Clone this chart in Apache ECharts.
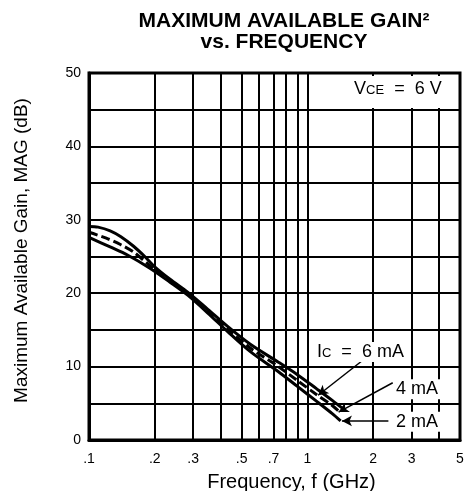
<!DOCTYPE html>
<html>
<head>
<meta charset="utf-8">
<script src="https://cdn.jsdelivr.net/npm/echarts@6/dist/echarts.min.js"></script>
<style>
  html, body { margin: 0; padding: 0; background: #fff; }
  #chart { width: 471px; height: 491px; }
</style>
</head>
<body>
<div id="chart"></div>
<script>
// frequency (GHz) and gain (dB)
var freq6 = [0.1, 0.11, 0.125, 0.14, 0.16, 0.18, 0.2, 0.235, 0.284, 0.35, 0.434, 0.55, 0.737, 0.9, 1.1, 1.3, 1.45];
var gain6 = [29.1, 29.0, 28.5, 27.7, 26.4, 25.0, 23.6, 21.9, 20.1, 17.8, 15.4, 13.0, 10.6, 8.9, 7.0, 5.4, 4.3];
var freq4 = [0.1, 0.12, 0.14, 0.16, 0.186, 0.2, 0.235, 0.284, 0.35, 0.434, 0.55, 0.737, 0.9, 1.1, 1.3, 1.42];
var gain4 = [28.3, 27.5, 26.6, 25.6, 24.0, 23.2, 21.7, 19.9, 17.6, 15.0, 12.5, 10.0, 8.1, 6.2, 4.7, 3.7];
var freq2 = [0.1, 0.125, 0.15, 0.19, 0.235, 0.284, 0.35, 0.434, 0.55, 0.737, 0.9, 1.1, 1.3, 1.42];
var gain2 = [27.6, 26.3, 25.2, 23.4, 21.5, 19.7, 17.3, 14.7, 12.0, 9.3, 7.3, 5.3, 3.6, 2.6];

var gridFreqs = [0.1, 0.2, 0.3, 0.4, 0.5, 0.6, 0.7, 0.8, 0.9, 1, 2, 3, 4, 5];
var labelFreqs = [0.1, 0.2, 0.3, 0.5, 0.7, 1, 2, 3, 5];

var font = 'Liberation Sans, Arial, Helvetica, sans-serif';

function pairs(xs, ys) {
  return xs.map(function (x, i) { return [x, ys[i]]; });
}

// arrow from label to curve
function arrow(from, to) {
  return {
    silent: true,
    symbol: ['none', 'arrow'],
    symbolSize: [8, 10],
    label: { show: false },
    lineStyle: { color: '#000', width: 1.5, type: 'solid' },
    data: [[{ coord: from }, { coord: to }]]
  };
}

function textMark(items, pad) {
  return {
    silent: true,
    symbol: 'circle',
    symbolSize: 0,
    label: {
      show: true,
      position: 'inside',
      backgroundColor: '#fff',
      padding: pad || [1, 2],
      fontFamily: font,
      fontSize: 18,
      color: '#000',
      formatter: function (p) { return p.name; },
      rich: {
        s: { fontFamily: font, fontSize: 13, color: '#000', verticalAlign: 'bottom', padding: [0, 0, 1, 0] }
      }
    },
    data: items
  };
}

var myChart = echarts.init(document.getElementById('chart'));

var option = {
  animation: false,
  backgroundColor: '#fff',
  title: {
    text: 'MAXIMUM AVAILABLE GAIN²\nvs. FREQUENCY',
    left: 279,
    top: 6,
    textAlign: 'center',
    textStyle: {
      fontFamily: font,
      fontWeight: 'bold',
      fontSize: 21,
      lineHeight: 21,
      color: '#000'
    }
  },
  grid: {
    left: 89,
    right: 11,
    top: 73,
    bottom: 51,
    outerBoundsMode: 'none',
    containLabel: false,
    show: true,
    borderColor: '#000',
    borderWidth: 3
  },
  xAxis: {
    type: 'log',
    logBase: 10,
    min: 0.1,
    max: 5,
    name: 'Frequency, f (GHz)',
    nameLocation: 'middle',
    nameGap: 32,
    nameTextStyle: { fontFamily: font, fontSize: 20, color: '#000', padding: [0, 0, 0, 34] },
    axisLine: { show: true, lineStyle: { color: '#000', width: 3 } },
    axisTick: { show: false, customValues: gridFreqs },
    axisLabel: {
      customValues: labelFreqs,
      fontFamily: font,
      fontSize: 14,
      color: '#000',
      margin: 12,
      formatter: function (v) {
        var s = String(+(+v).toFixed(2));
        return s.replace(/^0\./, '.');
      }
    },
    splitLine: { show: true, lineStyle: { color: '#000', width: 2 } }
  },
  yAxis: {
    type: 'value',
    min: 0,
    max: 50,
    interval: 5,
    name: 'Maximum Available Gain, MAG (dB)',
    nameLocation: 'middle',
    nameGap: 58,
    nameTextStyle: { fontFamily: font, fontSize: 19, color: '#000', padding: [0, 0, 0, 12] },
    axisLine: { show: true, lineStyle: { color: '#000', width: 3 } },
    axisTick: { show: false },
    axisLabel: {
      fontFamily: font,
      fontSize: 14,
      color: '#000',
      margin: 8,
      formatter: function (v) { return v % 10 === 0 ? String(v) : ''; }
    },
    splitLine: { show: true, lineStyle: { color: '#000', width: 2 } }
  },
  series: [
    {
      name: '6 mA',
      type: 'line',
      data: pairs(freq6, gain6),
      smooth: 0.3,
      showSymbol: false,
      lineStyle: { color: '#000', width: 3 },
      markLine: arrow([1.8, 10.9], [1.12, 6.1]),
      markPoint: textMark([
        { name: 'I{s|C}  =  6 mA', coord: [1.75, 12.0] },
        { name: 'V{s|CE}  =  6 V', coord: [2.57, 47.4], label: { padding: [4, 4, 10, 6] } }
      ], [1, 3])
    },
    {
      name: '4 mA',
      type: 'line',
      data: pairs(freq4, gain4),
      smooth: 0.3,
      showSymbol: false,
      lineStyle: { color: '#000', width: 3, type: [9, 4] },
      markLine: arrow([2.46, 7.8], [1.39, 3.8]),
      markPoint: textMark([{ name: '4 mA', coord: [3.18, 6.9] }])
    },
    {
      name: '2 mA',
      type: 'line',
      data: pairs(freq2, gain2),
      smooth: 0.3,
      showSymbol: false,
      lineStyle: { color: '#000', width: 3 },
      markLine: arrow([2.35, 2.6], [1.44, 2.6]),
      markPoint: textMark([{ name: '2 mA', coord: [3.18, 2.5] }])
    }
  ]
};

myChart.setOption(option);
</script>
</body>
</html>
